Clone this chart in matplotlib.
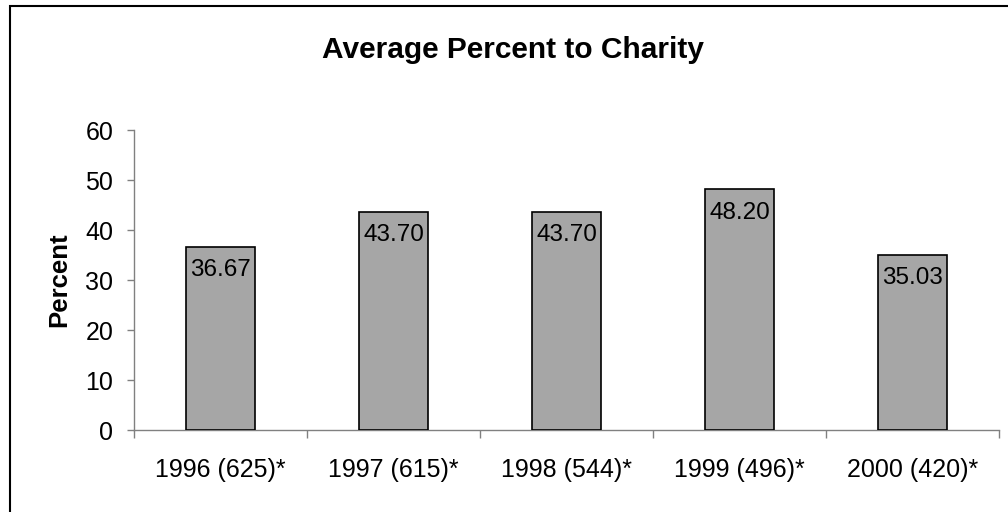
import matplotlib.pyplot as plt
from matplotlib.patches import Rectangle

years = ['1996 (625)*', '1997 (615)*', '1998 (544)*', '1999 (496)*', '2000 (420)*']
percent = [36.67, 43.70, 43.70, 48.20, 35.03]

plt.rcParams['font.family'] = ['Liberation Sans', 'DejaVu Sans']

fig = plt.figure(figsize=(10.08, 5.12), dpi=100)
ax = fig.add_axes([134 / 1008, 1 - 430 / 512, (999 - 134) / 1008, 300 / 512])

x = range(len(years))
bars = ax.bar(x, percent, width=0.4, color='#a6a6a6', edgecolor='black', linewidth=1.2, zorder=3)

for b, v in zip(bars, percent):
    ax.annotate(f'{v:.2f}', (b.get_x() + b.get_width() / 2, v), xytext=(0, -17),
                textcoords='offset points', ha='center', va='center', fontsize=17.5)

ax.set_xlim(-0.5, len(years) - 0.5)
ax.set_ylim(0, 60)
ax.set_yticks(range(0, 61, 10))
ax.set_xticks(list(x))
ax.set_xticklabels(years)
ax.set_xticks([i - 0.5 for i in range(len(years) + 1)], minor=True)
ax.tick_params(axis='x', which='major', length=0, pad=20, labelsize=18)
ax.tick_params(axis='x', which='minor', length=6, width=1, color='#808080', direction='out')
ax.tick_params(axis='y', length=5, width=1, color='#808080', pad=10, labelsize=18)

for s in ['top', 'right']:
    ax.spines[s].set_visible(False)
for s in ['left', 'bottom']:
    ax.spines[s].set_color('#808080')
    ax.spines[s].set_linewidth(1)

ax.set_ylabel('Percent', fontsize=18.5, fontweight='bold', labelpad=10)
fig.text(513 / 1008, 1 - 50 / 512, 'Average Percent to Charity', ha='center', va='center',
         fontsize=21.5, fontweight='bold')

# outer chart border, only top and left edges fall inside the picture
fig.patches.append(Rectangle((10 / 1008, -0.1), 1.2, 1 - 6 / 512 + 0.1, transform=fig.transFigure,
                             fill=False, edgecolor='black', linewidth=1.5))

fig.savefig('out.png', dpi=100)
